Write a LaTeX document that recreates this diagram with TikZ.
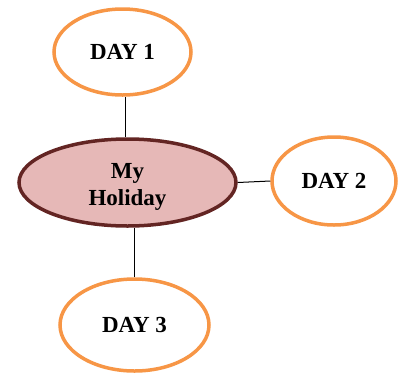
\documentclass[tikz,border=0pt]{standalone}
\usepackage{fontspec}
\setmainfont{Liberation Serif}
\usetikzlibrary{shapes.geometric}
\definecolor{orangeb}{HTML}{F79646}
\definecolor{maroonb}{HTML}{632523}
\definecolor{pinkf}{HTML}{E6B8B7}
\tikzset{
  dayel/.style={ellipse, draw=orangeb, line width=3.5pt, fill=white, inner sep=0pt,
    font=\fontsize{23}{27}\selectfont\bfseries, align=center},
  mainel/.style={ellipse, draw=maroonb, line width=3.5pt, fill=pinkf, inner sep=0pt},
  maintext/.style={font=\fontsize{23}{27}\selectfont\bfseries, align=center, inner sep=0pt},
  conn/.style={draw=black, line width=1pt}
}
\begin{document}
\begin{tikzpicture}[x=1pt,y=-1pt]
\useasboundingbox (0,0) rectangle (399,376);
\node[mainel, minimum width=217pt, minimum height=87pt,
  label={[maintext, yshift=-4pt]center:My\\Holiday}] (main) at (127.5,182.5) {};
\node[dayel, minimum width=137pt, minimum height=86pt] (d1) at (122.5,52) {DAY 1};
\node[dayel, minimum width=124pt, minimum height=88pt] (d2) at (334,181) {DAY 2};
\node[dayel, minimum width=149pt, minimum height=92pt] (d3) at (134.5,325) {DAY 3};
\draw[conn] (d1.south) ++(2.5,0) coordinate (c1) -- (main.north -| c1);
\draw[conn] (main.east) -- (d2.west);
\draw[conn] (d3.north) -- (main.south -| d3.north);
\end{tikzpicture}
\end{document}
